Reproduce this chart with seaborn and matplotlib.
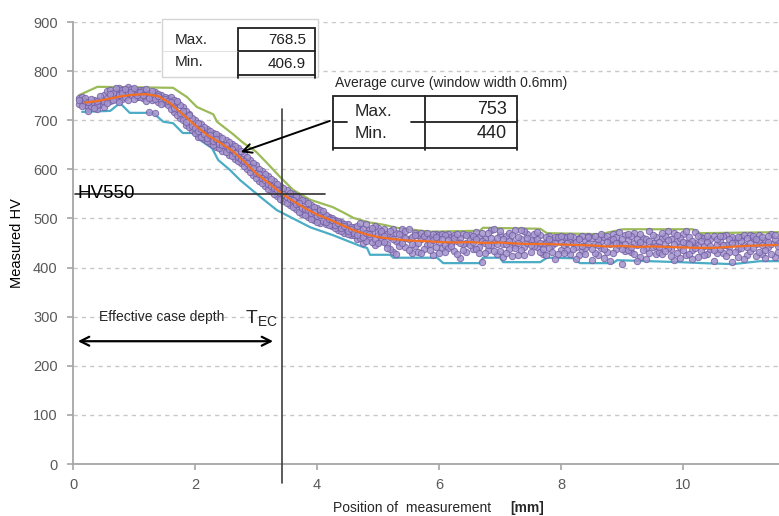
import matplotlib
matplotlib.use("Agg")
import numpy as np
import pandas as pd
import matplotlib.pyplot as plt
import seaborn as sns
from matplotlib.patches import Rectangle
from matplotlib.lines import Line2D

# ---------------------------------------------------------------------------
# Hardness traverse data
# ---------------------------------------------------------------------------
# measurement positions along the traverse [mm]
depth_mm = [
    0.10, 0.15, 0.20, 0.25, 0.30, 0.35, 0.40, 0.45, 0.50, 0.55,
    0.60, 0.65, 0.70, 0.75, 0.80, 0.85, 0.90, 0.95, 1.00, 1.05,
    1.10, 1.15, 1.20, 1.25, 1.30, 1.35, 1.40, 1.45, 1.50, 1.55,
    1.60, 1.65, 1.70, 1.75, 1.80, 1.85, 1.90, 1.95, 2.00, 2.05,
    2.10, 2.15, 2.20, 2.25, 2.30, 2.35, 2.40, 2.45, 2.50, 2.55,
    2.60, 2.65, 2.70, 2.75, 2.80, 2.85, 2.90, 2.95, 3.00, 3.05,
    3.10, 3.15, 3.20, 3.25, 3.30, 3.35, 3.40, 3.45, 3.50, 3.55,
    3.60, 3.65, 3.70, 3.75, 3.80, 3.85, 3.90, 3.95, 4.00, 4.05,
    4.10, 4.15, 4.20, 4.25, 4.30, 4.35, 4.40, 4.45, 4.50, 4.55,
    4.60, 4.65, 4.70, 4.75, 4.80, 4.85, 4.90, 4.95, 5.00, 5.05,
    5.10, 5.15, 5.20, 5.25, 5.30, 5.35, 5.40, 5.45, 5.50, 5.55,
    5.60, 5.65, 5.70, 5.75, 5.80, 5.85, 5.90, 5.95, 6.00, 6.05,
    6.10, 6.15, 6.20, 6.25, 6.30, 6.35, 6.40, 6.45, 6.50, 6.55,
    6.60, 6.65, 6.70, 6.75, 6.80, 6.85, 6.90, 6.95, 7.00, 7.05,
    7.10, 7.15, 7.20, 7.25, 7.30, 7.35, 7.40, 7.45, 7.50, 7.55,
    7.60, 7.65, 7.70, 7.75, 7.80, 7.85, 7.90, 7.95, 8.00, 8.05,
    8.10, 8.15, 8.20, 8.25, 8.30, 8.35, 8.40, 8.45, 8.50, 8.55,
    8.60, 8.65, 8.70, 8.75, 8.80, 8.85, 8.90, 8.95, 9.00, 9.05,
    9.10, 9.15, 9.20, 9.25, 9.30, 9.35, 9.40, 9.45, 9.50, 9.55,
    9.60, 9.65, 9.70, 9.75, 9.80, 9.85, 9.90, 9.95, 10.00, 10.05,
    10.10, 10.15, 10.20, 10.25, 10.30, 10.35, 10.40, 10.45, 10.50, 10.55,
    10.60, 10.65, 10.70, 10.75, 10.80, 10.85, 10.90, 10.95, 11.00, 11.05,
    11.10, 11.15, 11.20, 11.25, 11.30, 11.35, 11.40, 11.45, 11.50, 11.55,
]

# three parallel indentation rows [HV]
hv_row_a = [
    745, 738, 731, 726, 736, 742, 722, 733, 752, 760,
    762, 748, 757, 766, 744, 758, 768.5, 751, 760, 747,
    762, 745, 755, 716, 748, 757, 737, 752, 735, 746,
    748, 716, 737, 705, 726, 691, 712, 680, 701, 666,
    692, 661, 683, 653, 675, 646, 668, 638, 660, 630,
    652, 622, 643, 612, 632, 600, 620, 589, 608, 577,
    597, 566, 587, 555, 576, 545, 566, 535, 557, 527,
    549, 519, 541, 510, 535, 503, 528, 496, 521, 490,
    509, 489, 503, 484, 497, 476, 492, 471, 488, 466,
    482, 458, 477, 451, 488, 460, 473, 445, 481, 455,
    478, 447, 463, 432, 471, 452, 478, 441, 458, 429,
    470, 431, 458, 467, 445, 462, 426, 469, 452, 439,
    445, 468, 462, 433, 455, 420, 468, 449, 466, 438,
    473, 442, 411, 458, 436, 477, 453, 428, 466, 447,
    464, 437, 452, 477, 426, 458, 441, 469, 431, 455,
    441, 466, 428, 453, 464, 445, 418, 460, 436, 463,
    462, 428, 450, 441, 461, 433, 456, 464, 415, 448,
    425, 455, 463, 432, 448, 469, 437, 451, 406.9, 466,
    457, 431, 470, 445, 422, 461, 439, 475, 450, 427,
    431, 460, 448, 474, 437, 415, 455, 442, 468, 425,
    462, 436, 451, 421, 463, 443, 428, 459, 414, 447,
    455, 429, 467, 441, 412, 458, 437, 463, 446, 425,
    433, 461, 448, 466, 427, 456, 442, 468, 421, 450,
]
hv_row_b = [
    733, 748, 740, 719, 729, 735, 731, 741, 738, 746,
    739, 756, 743, 752, 761, 747, 756, 764, 743, 757,
    748, 761, 740, 756, 741, 715, 753, 741, 747, 731,
    722, 742, 711, 731, 700, 719, 686, 705, 674, 694,
    665, 687, 657, 679, 650, 671, 643, 664, 636, 655,
    628, 647, 617, 637, 606, 626, 595, 613, 583, 601,
    572, 591, 560, 580, 550, 570, 540, 561, 531, 552,
    523, 546, 514, 537, 507, 531, 499, 524, 493, 517,
    495, 507, 486, 500, 481, 494, 475, 489, 469, 483,
    466, 485, 461, 479, 455, 476, 452, 484, 466, 470,
    452, 469, 437, 478, 455, 444, 466, 475, 436, 463,
    443, 466, 470, 437, 459, 448, 468, 441, 466, 468,
    467, 440, 451, 466, 428, 461, 447, 431, 459, 464,
    437, 462, 455, 430, 470, 445, 478, 460, 434, 458,
    448, 471, 423, 446, 462, 436, 474, 450, 457, 443,
    459, 432, 448, 462, 439, 456, 462, 427, 452, 445,
    435, 459, 463, 453, 426, 465, 440, 447, 461, 430,
    458, 440, 419, 465, 456, 429, 462, 445, 458, 433,
    436, 465, 451, 414, 468, 447, 458, 430, 441, 463,
    453, 427, 465, 440, 458, 471, 430, 461, 436, 449,
    428, 455, 473, 446, 433, 461, 452, 438, 465, 430,
    438, 464, 446, 432, 462, 449, 421, 455, 466, 441,
    466, 440, 423, 455, 463, 436, 464, 447, 459, 432,
]
hv_row_c = [
    741, 728, 746, 737, 744, 725, 739, 749, 727, 735,
    754, 741, 766, 738, 756, 763, 741, 757, 766, 752,
    757, 751, 763, 745, 760, 744, 749, 734, 744, 740,
    737, 724, 740, 714, 718, 697, 710, 688, 684, 679,
    682, 672, 664, 670, 658, 662, 652, 649, 650, 641,
    641, 633, 626, 621, 617, 612, 604, 603, 592, 590,
    583, 579, 571, 567, 562, 557, 552, 549, 543, 539,
    538, 530, 531, 522, 520, 518, 512, 514, 504, 506,
    515, 493, 499, 497, 486, 491, 480, 485, 474, 479,
    471, 467, 490, 462, 470, 469, 481, 459, 450, 474,
    465, 440, 474, 458, 427, 468, 449, 460, 478, 447,
    466, 451, 429, 464, 471, 435, 456, 463, 430, 458,
    431, 457, 443, 460, 469, 449, 436, 467, 445, 452,
    458, 429, 470, 451, 445, 460, 433, 447, 475, 421,
    430, 455, 466, 439, 451, 477, 425, 461, 445, 469,
    473, 451, 437, 425, 458, 432, 449, 463, 464, 430,
    451, 465, 437, 418, 459, 444, 427, 462, 438, 464,
    446, 468, 437, 452, 413, 459, 449, 472, 438, 447,
    469, 442, 428, 459, 453, 435, 417, 454, 466, 444,
    442, 470, 434, 456, 423, 447, 466, 419, 452, 474,
    447, 418, 439, 464, 455, 426, 465, 444, 436, 458,
    465, 445, 424, 458, 451, 431, 463, 440, 418, 460,
    449, 465, 458, 431, 445, 419, 453, 427, 466, 443,
]

# moving average (window width 0.6 mm)
avg_pos = [0.20, 0.40, 0.60, 0.80, 1.00, 1.20, 1.40, 1.60, 1.80, 2.00,
           2.20, 2.40, 2.60, 2.80, 3.00, 3.20, 3.40, 3.60, 3.80, 4.00,
           4.20, 4.40, 4.60, 4.80, 5.00, 5.25, 5.50, 5.75, 6.00, 6.25,
           6.50, 6.75, 7.00, 7.25, 7.50, 7.75, 8.00, 8.25, 8.50, 8.75,
           9.00, 9.25, 9.50, 9.75, 10.00, 10.25, 10.50, 10.75, 11.00, 11.25,
           11.55]
avg_hv = [736, 739, 744, 749, 752, 753, 749, 734, 712, 690,
          670, 655, 639, 617, 592, 573, 553, 536, 521, 508,
          498, 487, 476, 468, 462, 458, 455, 454, 452, 451,
          452, 450, 451, 449, 448, 448, 447, 446, 445, 443,
          444, 442, 443, 442, 441, 440, 440, 442, 444, 445,
          446]

# upper envelope
upper_pos = [0.10, 0.40, 1.64, 1.87, 2.03, 2.30, 2.36, 2.62, 2.79, 3.00,
             3.18, 3.39, 3.61, 3.89, 4.26, 4.45, 4.60, 4.85, 5.10, 5.30,
             5.85, 6.67, 6.72, 7.66, 7.77, 8.64, 9.02, 10.16, 10.28, 11.57]
upper_hv = [751, 768, 766, 747, 727, 712, 697, 672, 654, 636,
            613, 585, 558, 538, 523, 511, 501, 492, 487, 481,
            473, 475, 481, 479, 470, 468, 478, 478, 470, 472]

# lower envelope
lower_pos = [0.15, 0.61, 0.77, 0.93, 1.31, 1.48, 1.64, 1.80, 1.97, 2.08,
             2.28, 2.38, 2.57, 2.74, 3.07, 3.34, 3.56, 3.89, 4.26, 4.75,
             4.82, 4.87, 5.20, 5.25, 5.97, 6.07, 6.67, 6.72, 7.00, 7.05,
             7.66, 7.77, 8.20, 8.31, 8.85, 8.92, 9.95, 10.33, 10.82, 11.26,
             11.57]
lower_hv = [717, 719, 735, 715, 715, 697, 694, 674, 674, 660,
            643, 619, 599, 578, 544, 517, 503, 482, 466, 442,
            440, 426, 426, 420, 420, 409, 409, 420, 420, 411,
            411, 420, 419, 409, 409, 415, 411, 409, 407, 413,
            413]

hv_limit = 550        # limit hardness for the effective case depth
case_depth_mm = 3.43  # depth where the average curve reaches the limit

x_ticks = [0, 2, 4, 6, 8, 10]
y_ticks = [0, 100, 200, 300, 400, 500, 600, 700, 800, 900]

# ---------------------------------------------------------------------------
points = pd.concat([
    pd.DataFrame({"pos": depth_mm, "hv": hv_row_a}),
    pd.DataFrame({"pos": depth_mm, "hv": hv_row_b}),
    pd.DataFrame({"pos": depth_mm, "hv": hv_row_c}),
], ignore_index=True)

sns.set_theme(style="white")
plt.rcParams["font.family"] = ["Liberation Sans", "DejaVu Sans"]

W, H = 779, 516
fig = plt.figure(figsize=(W / 100, H / 100), dpi=100)
ax = fig.add_axes([73 / W, 52 / H, (W - 73) / W, 442 / H])

C_GREEN = "#9BBB59"
C_BLUE = "#4BACC6"
C_ORANGE = "#F36F21"
C_PT_FACE = "#A393CC"
C_PT_EDGE = "#7460A6"
C_AXIS = "#A6A6A6"

sns.lineplot(x=upper_pos, y=upper_hv, color=C_GREEN, lw=1.6, ax=ax,
             estimator=None, sort=False, zorder=2)
sns.lineplot(x=lower_pos, y=lower_hv, color=C_BLUE, lw=1.6, ax=ax,
             estimator=None, sort=False, zorder=2)
sns.scatterplot(data=points, x="pos", y="hv", s=21, color=C_PT_FACE,
                edgecolor=C_PT_EDGE, linewidth=0.7, alpha=0.85, ax=ax,
                zorder=3, legend=False)
sns.lineplot(x=avg_pos, y=avg_hv, color=C_ORANGE, lw=1.6, ax=ax,
             estimator=None, sort=False, zorder=4)

ax.set_xlim(0, (W - 73) / 61)
ax.set_ylim(0, 900)
ax.set_xticks(x_ticks)
ax.set_yticks(y_ticks)
ax.set_xlabel("")
ax.set_ylabel("Measured HV", fontsize=10.5, color="#000000")
ax.yaxis.set_label_coords(-0.079, 0.5)
ax.yaxis.label.set_va("center")

ax.yaxis.grid(True, linestyle=(0, (3, 3)), color="#C8C8C8", lw=1)
ax.xaxis.grid(False)
ax.set_axisbelow(True)
for side in ("top", "right"):
    ax.spines[side].set_visible(False)
for side in ("left", "bottom"):
    ax.spines[side].set_color(C_AXIS)
    ax.spines[side].set_linewidth(1.3)
ax.tick_params(axis="both", which="major", color=C_AXIS, labelcolor="#595959",
               labelsize=10.5, length=4, width=1.2, direction="out",
               left=True, bottom=True)
ax.tick_params(axis="y", pad=7)
ax.tick_params(axis="x", pad=6)

# limit hardness and case depth markers
ax.plot([0.03, 4.13], [hv_limit, hv_limit], color="#303030", lw=1.2, zorder=5)
ax.plot([case_depth_mm, case_depth_mm], [-39, 722], color="#404040", lw=1.2,
        zorder=5, clip_on=False)
ax.text(0.08, hv_limit, "HV550", fontsize=13.5, va="center", ha="left",
        color="#000000", zorder=6)

ax.annotate("", xy=(0.08, 250), xytext=(3.28, 250),
            arrowprops=dict(arrowstyle="<->", lw=1.6, color="black",
                            mutation_scale=16, shrinkA=0, shrinkB=0))
ax.text(0.43, 300, "Effective case depth", fontsize=10, va="center", ha="left")
ax.text(2.82, 288, r"$\mathregular{T_{EC}}$", fontsize=14, va="baseline",
        ha="left")

ax.annotate("", xy=(2.75, 635), xytext=(4.21, 698.6),
            arrowprops=dict(arrowstyle="->", lw=1.4, color="black",
                            mutation_scale=16, shrinkA=0, shrinkB=0),
            zorder=6)


# ---------------------------------------------------------------------------
# summary tables (figure pixel layout)
def fx(px):
    return px / W


def fy(py):
    return 1 - py / H


def box(x0, y0, x1, y1, face="white", edge="none", lw=1.0):
    fig.add_artist(Rectangle((fx(x0), fy(y1)), (x1 - x0) / W, (y1 - y0) / H,
                             transform=fig.transFigure, facecolor=face,
                             edgecolor=edge, lw=lw, zorder=1))


def seg(x0, y0, x1, y1, color="#202020", lw=1.3):
    fig.add_artist(Line2D([fx(x0), fx(x1)], [fy(y0), fy(y1)],
                          transform=fig.transFigure, color=color, lw=lw,
                          zorder=2))


raw_max = max(hv_row_a + hv_row_b + hv_row_c)
raw_min = min(hv_row_a + hv_row_b + hv_row_c)

# raw data table
box(162, 19, 318, 77, edge="#D4D4D4", lw=1.0)
seg(162, 51, 238, 51, color="#E2E2E2", lw=0.8)
box(238, 28, 315, 75, edge="#202020", lw=1.3)
seg(238, 51, 315, 51)
seg(238, 75, 238, 78)
seg(315, 75, 315, 78)
fig.text(fx(175), fy(40), "Max.", fontsize=11, va="center", ha="left")
fig.text(fx(175), fy(62), "Min.", fontsize=11, va="center", ha="left")
fig.text(fx(306), fy(40), f"{raw_max:.1f}", fontsize=11, va="center",
         ha="right", color="#202020")
fig.text(fx(306), fy(64), f"{raw_min:.1f}", fontsize=11, va="center",
         ha="right", color="#202020")

# average curve table
fig.text(fx(335), fy(83), "Average curve (window width 0.6mm)", fontsize=10,
         va="center", ha="left",
         bbox=dict(facecolor="white", edgecolor="none", pad=1.5))
box(333, 96, 517, 148, edge="#202020", lw=1.3)
seg(425, 96, 425, 150)
seg(333, 148, 333, 150)
seg(517, 148, 517, 150)
seg(333, 122, 347, 122)
seg(411, 122, 517, 122)
fig.text(fx(355), fy(112), "Max.", fontsize=12.5, va="center", ha="left")
fig.text(fx(355), fy(133), "Min.", fontsize=12.5, va="center", ha="left")
fig.text(fx(507), fy(110), f"{max(avg_hv):.0f}", fontsize=13, va="center",
         ha="right", color="#202020")
fig.text(fx(507), fy(134), f"{min(avg_hv):.0f}", fontsize=13, va="center",
         ha="right", color="#202020")

# axis title
fig.text(fx(333), fy(508), "Position of  measurement", fontsize=10,
         va="center", ha="left")
fig.text(fx(510), fy(508), "[mm]", fontsize=10, fontweight="bold",
         va="center", ha="left")

fig.savefig("out.png", dpi=100)
